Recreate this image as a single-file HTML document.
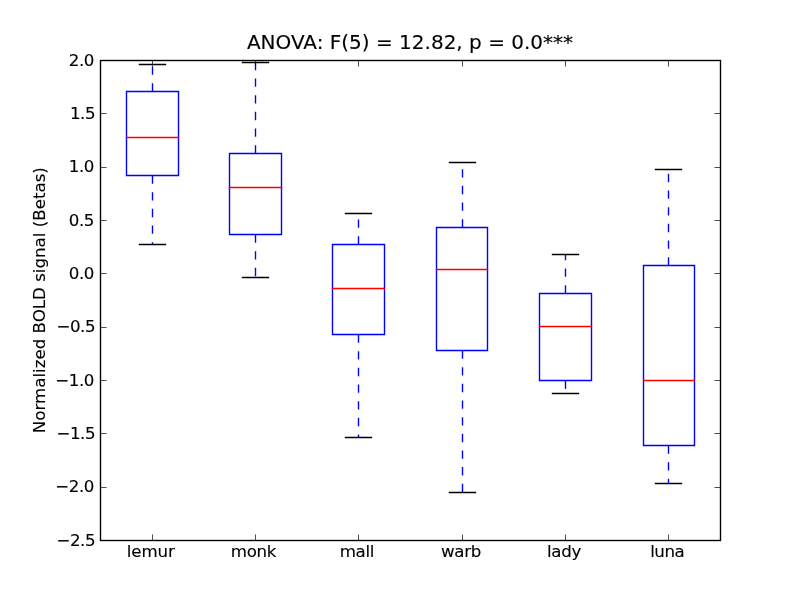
<!DOCTYPE html>
<html lang="en"><head><meta charset="utf-8"><title>ANOVA boxplot</title>
<style>html,body{margin:0;padding:0;background:#fff;overflow:hidden}svg{display:block}text{font-family:"DejaVu Sans","Liberation Sans",sans-serif;fill:#000;stroke:#000;stroke-width:0.12px}</style>
</head><body>
<svg width="800" height="600" viewBox="0 0 800 600">
<rect x="0" y="0" width="800" height="600" fill="#ffffff"/>
<g fill="none" stroke-width="1.39">
<path d="M152.50 91.50V64.50" stroke="#0000ff" stroke-dasharray="8.33 8.33"/>
<path d="M152.50 175.50V244.50" stroke="#0000ff" stroke-dasharray="8.33 8.33"/>
<path d="M139.50 64.50H165.50M139.50 244.50H165.50" stroke="#000000" stroke-linecap="square"/>
<path d="M126.50 175.50H178.50V91.50H126.50V175.50" stroke="#0000ff" stroke-linejoin="miter" stroke-linecap="square"/>
<path d="M126.50 137.50H178.50" stroke="#ff0000" stroke-linecap="square"/>
</g>
<g fill="none" stroke-width="1.39">
<path d="M255.50 153.50V62.50" stroke="#0000ff" stroke-dasharray="8.33 8.33"/>
<path d="M255.50 234.50V277.50" stroke="#0000ff" stroke-dasharray="8.33 8.33"/>
<path d="M242.50 62.50H268.50M242.50 277.50H268.50" stroke="#000000" stroke-linecap="square"/>
<path d="M229.50 234.50H281.50V153.50H229.50V234.50" stroke="#0000ff" stroke-linejoin="miter" stroke-linecap="square"/>
<path d="M229.50 187.50H281.50" stroke="#ff0000" stroke-linecap="square"/>
</g>
<g fill="none" stroke-width="1.39">
<path d="M358.50 244.50V213.50" stroke="#0000ff" stroke-dasharray="8.33 8.33"/>
<path d="M358.50 334.50V437.50" stroke="#0000ff" stroke-dasharray="8.33 8.33"/>
<path d="M345.50 213.50H371.50M345.50 437.50H371.50" stroke="#000000" stroke-linecap="square"/>
<path d="M332.50 334.50H384.50V244.50H332.50V334.50" stroke="#0000ff" stroke-linejoin="miter" stroke-linecap="square"/>
<path d="M332.50 288.50H384.50" stroke="#ff0000" stroke-linecap="square"/>
</g>
<g fill="none" stroke-width="1.39">
<path d="M462.50 227.50V162.50" stroke="#0000ff" stroke-dasharray="8.33 8.33"/>
<path d="M462.50 350.50V492.50" stroke="#0000ff" stroke-dasharray="8.33 8.33"/>
<path d="M449.50 162.50H475.50M449.50 492.50H475.50" stroke="#000000" stroke-linecap="square"/>
<path d="M436.50 350.50H487.50V227.50H436.50V350.50" stroke="#0000ff" stroke-linejoin="miter" stroke-linecap="square"/>
<path d="M436.50 269.50H487.50" stroke="#ff0000" stroke-linecap="square"/>
</g>
<g fill="none" stroke-width="1.39">
<path d="M565.50 293.50V254.50" stroke="#0000ff" stroke-dasharray="8.33 8.33"/>
<path d="M565.50 380.50V393.50" stroke="#0000ff" stroke-dasharray="8.33 8.33"/>
<path d="M552.50 254.50H578.50M552.50 393.50H578.50" stroke="#000000" stroke-linecap="square"/>
<path d="M539.50 380.50H591.50V293.50H539.50V380.50" stroke="#0000ff" stroke-linejoin="miter" stroke-linecap="square"/>
<path d="M539.50 326.50H591.50" stroke="#ff0000" stroke-linecap="square"/>
</g>
<g fill="none" stroke-width="1.39">
<path d="M668.50 265.50V169.50" stroke="#0000ff" stroke-dasharray="8.33 8.33"/>
<path d="M668.50 445.50V483.50" stroke="#0000ff" stroke-dasharray="8.33 8.33"/>
<path d="M655.50 169.50H681.50M655.50 483.50H681.50" stroke="#000000" stroke-linecap="square"/>
<path d="M643.50 445.50H694.50V265.50H643.50V445.50" stroke="#0000ff" stroke-linejoin="miter" stroke-linecap="square"/>
<path d="M643.50 380.50H694.50" stroke="#ff0000" stroke-linecap="square"/>
</g>
<path d="M152.50 540.5v-6M152.50 60.5v6M255.50 540.5v-6M255.50 60.5v6M358.50 540.5v-6M358.50 60.5v6M462.50 540.5v-6M462.50 60.5v6M565.50 540.5v-6M565.50 60.5v6M668.50 540.5v-6M668.50 60.5v6M100.5 60.50h6M720.5 60.50h-6M100.5 113.50h6M720.5 113.50h-6M100.5 167.50h6M720.5 167.50h-6M100.5 220.50h6M720.5 220.50h-6M100.5 273.50h6M720.5 273.50h-6M100.5 327.50h6M720.5 327.50h-6M100.5 380.50h6M720.5 380.50h-6M100.5 433.50h6M720.5 433.50h-6M100.5 487.50h6M720.5 487.50h-6M100.5 540.50h6M720.5 540.50h-6" fill="none" stroke="#000" stroke-width="0.7"/>
<rect x="100.5" y="60.5" width="620" height="480" fill="none" stroke="#000" stroke-width="1.39"/>
<text x="93.95" y="66" font-size="16.67" text-anchor="end" letter-spacing="-0.45">2.0</text>
<text x="95.05" y="119" font-size="16.67" text-anchor="end" letter-spacing="-0.45">1.5</text>
<text x="93.95" y="172" font-size="16.67" text-anchor="end" letter-spacing="-0.45">1.0</text>
<text x="94.0" y="226" font-size="16.67" text-anchor="end" letter-spacing="-0.45">0.5</text>
<text x="93.95" y="279" font-size="16.67" text-anchor="end" letter-spacing="-0.45">0.0</text>
<text x="95.05" y="332" font-size="16.67" text-anchor="end" letter-spacing="-0.45">−0.5</text>
<text x="93.95" y="386" font-size="16.67" text-anchor="end" letter-spacing="-0.45">−1.0</text>
<text x="95.05" y="439" font-size="16.67" text-anchor="end" letter-spacing="-0.45">−1.5</text>
<text x="93.95" y="492" font-size="16.67" text-anchor="end" letter-spacing="-0.45">−2.0</text>
<text x="95.05" y="546" font-size="16.67" text-anchor="end" letter-spacing="-0.45">−2.5</text>
<text x="126.71" y="556.5" font-size="16.67" letter-spacing="-0.1">lemur</text>
<text x="230.79" y="556.5" font-size="16.67" letter-spacing="-0.33">monk</text>
<text x="339.64" y="556.5" font-size="16.67" letter-spacing="-0.3">mall</text>
<text x="441.04" y="556.5" font-size="16.67" letter-spacing="-0.35">warb</text>
<text x="547.02" y="556.5" font-size="16.67" letter-spacing="-0.28">lady</text>
<text x="650.20" y="556.5" font-size="16.67" letter-spacing="-0.45">luna</text>
<text x="410" y="48.75" font-size="20" text-anchor="middle">ANOVA: F(5) = 12.82, p = 0.0***</text>
<text transform="translate(45.1 300.2) rotate(-90)" font-size="16.67" text-anchor="middle">Normalized BOLD signal (Betas)</text>
</svg>
</body></html>
